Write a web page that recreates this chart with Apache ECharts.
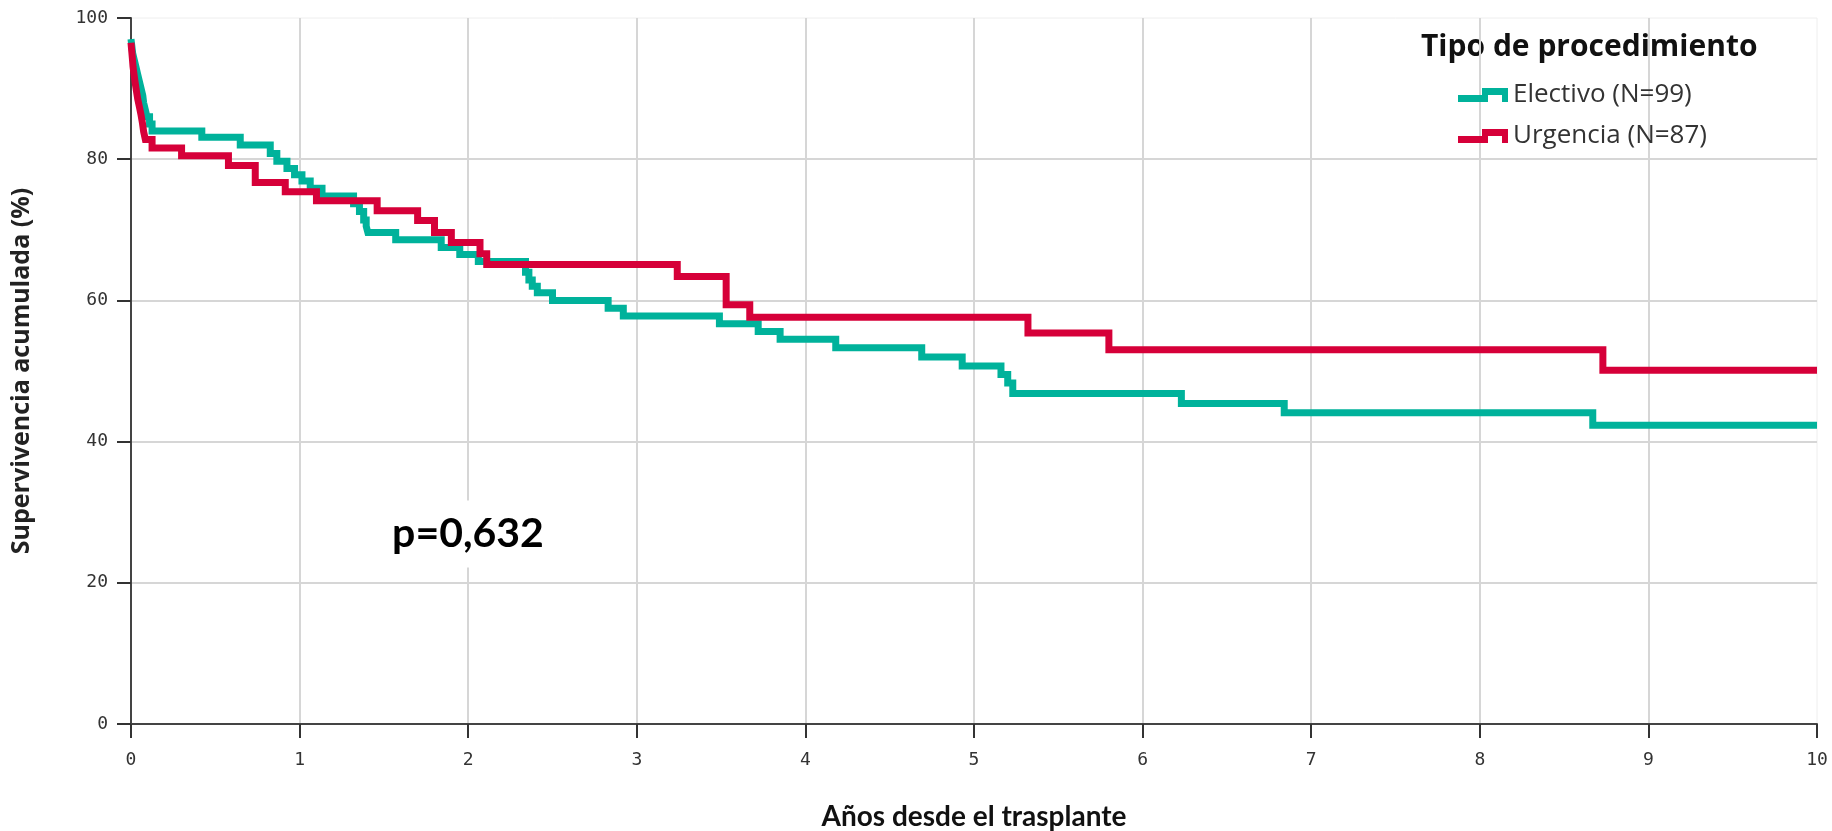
<!DOCTYPE html>
<html>
<head>
<meta charset="utf-8">
<title>Supervivencia por tipo de procedimiento</title>
<script src="https://cdn.jsdelivr.net/npm/echarts@6/dist/echarts.min.js"></script>
<style>
  html, body { margin: 0; padding: 0; background: #fff; }
  #chart { width: 1832px; height: 831px; }
</style>
</head>
<body>
<div id="chart"></div>
<script>
// Electivo (N=99): time in years, survival (%) from that time on
const electivoTime = [0, 0.005, 0.01, 0.02, 0.03, 0.04, 0.05, 0.06, 0.07, 0.075, 0.085, 0.095, 0.11, 0.125,
  0.42, 0.648, 0.826, 0.865, 0.925, 0.97, 1.014, 1.063, 1.133, 1.32, 1.355, 1.38, 1.395, 1.405, 1.57, 1.84,
  1.95, 2.06, 2.34, 2.36, 2.38, 2.41, 2.5, 2.83, 2.92, 3.49, 3.72, 3.85, 4.18, 4.69, 4.93, 5.16, 5.2, 5.23,
  6.23, 6.84, 8.67, 10]
const electivoSurv = [97.0, 96.0, 95.0, 94.0, 93.0, 92.0, 91.0, 90.0, 89.0, 88.0, 87.0, 86.0, 85.0, 84.0,
  83.1, 82.0, 80.8, 79.7, 78.7, 77.8, 76.9, 75.9, 74.8, 73.7, 72.6, 71.4, 70.5, 69.6, 68.6, 67.5,
  66.5, 65.5, 64.0, 62.9, 62.0, 61.1, 60.0, 58.9, 57.8, 56.7, 55.6, 54.5, 53.3, 52.0, 50.7, 49.5, 48.3, 46.8,
  45.4, 44.1, 42.3, 42.3]

// Urgencia (N=87)
const urgenciaTime = [0, 0.004, 0.008, 0.012, 0.018, 0.025, 0.032, 0.04, 0.05, 0.06, 0.068, 0.075, 0.085, 0.125,
  0.3, 0.578, 0.737, 0.915, 1.1, 1.46, 1.7, 1.8, 1.9, 2.07, 2.11, 3.24, 3.53, 3.67, 5.32, 5.8, 8.73, 10]
const urgenciaSurv = [96.5, 95.4, 94.3, 93.1, 92.0, 90.8, 89.7, 88.5, 87.4, 86.2, 85.1, 83.9, 82.8, 81.6,
  80.5, 79.1, 76.7, 75.4, 74.1, 72.7, 71.3, 69.6, 68.2, 66.6, 65.1, 63.4, 59.4, 57.6, 55.4, 53.0, 50.1, 50.1]

const seriesNames = ['Electivo (N=99)', 'Urgencia (N=87)']
const legendTitle = 'Tipo de procedimiento'
const pValueText = 'p=0,632'
const xName = 'Años desde el trasplante'
const yName = 'Supervivencia acumulada (%)'

const toPairs = (t, s) => t.map((v, i) => [v, s[i]])

const chart = echarts.init(document.getElementById('chart'))
const stepIcon = 'path://M0,7 L24,7 L24,0 L50,0 L50,14 L44,14 L44,7 L30,7 L30,14 L0,14 Z'

chart.setOption({
  animation: false,
  backgroundColor: '#fff',
  grid: {
    left: 131,
    right: 15,
    top: 18,
    bottom: 107,
    outerBoundsMode: 'none',
    show: true,
    borderColor: '#eeeeee',
    borderWidth: 1
  },
  legend: {
    orient: 'vertical',
    left: 1458,
    top: 80,
    padding: 0,
    itemGap: 11,
    itemWidth: 50,
    itemHeight: 14,
    icon: stepIcon,
    itemStyle: { borderWidth: 0 },
    textStyle: {
      fontFamily: 'Open Sans',
      fontSize: 26,
      lineHeight: 30,
      color: '#333'
    },
    data: seriesNames
  },
  xAxis: {
    type: 'value',
    min: 0,
    max: 10,
    interval: 1,
    name: xName,
    nameLocation: 'middle',
    nameGap: 79,
    nameTextStyle: {
      fontFamily: 'Lato',
      fontWeight: 'bold',
      fontSize: 28,
      color: '#111'
    },
    axisLine: { lineStyle: { color: '#444', width: 2 } },
    axisTick: { length: 14, lineStyle: { color: '#333', width: 2 } },
    axisLabel: {
      margin: 27,
      fontFamily: 'DejaVu Sans Mono',
      fontSize: 18,
      color: '#333'
    },
    splitLine: {
      show: true,
      showMaxLine: false,
      lineStyle: { color: '#d6d6d6', width: 2 }
    }
  },
  yAxis: {
    type: 'value',
    min: 0,
    max: 100,
    interval: 20,
    name: yName,
    nameLocation: 'middle',
    nameGap: 97,
    nameTextStyle: {
      fontFamily: 'Open Sans',
      fontWeight: 'bold',
      fontSize: 25,
      color: '#222'
    },
    axisLine: { show: true, lineStyle: { color: '#444', width: 2 } },
    axisTick: { show: true, length: 14, lineStyle: { color: '#333', width: 2 } },
    axisLabel: {
      margin: 23,
      fontFamily: 'DejaVu Sans Mono',
      fontSize: 18,
      color: '#333'
    },
    splitLine: {
      show: true,
      showMaxLine: false,
      lineStyle: { color: '#d6d6d6', width: 2 }
    }
  },
  graphic: [
    {
      type: 'text',
      left: 1421,
      top: 32,
      style: {
        text: legendTitle,
        fontFamily: 'Open Sans',
        fontWeight: 'bold',
        fontSize: 30,
        fill: '#111'
      }
    },
    {
      type: 'text',
      x: 468,
      y: 534,
      z: 100,
      style: {
        text: pValueText,
        align: 'center',
        verticalAlign: 'middle',
        fontFamily: 'Lato',
        fontWeight: 'bold',
        fontSize: 41,
        fill: '#000',
        backgroundColor: '#fff',
        padding: [13, 4]
      }
    }
  ],
  series: [
    {
      name: seriesNames[0],
      type: 'line',
      step: 'end',
      showSymbol: false,
      symbol: 'none',
      color: '#00B29B',
      lineStyle: { width: 7, color: '#00B29B', join: 'miter', cap: 'butt' },
      data: toPairs(electivoTime, electivoSurv)
    },
    {
      name: seriesNames[1],
      type: 'line',
      step: 'end',
      showSymbol: false,
      symbol: 'none',
      color: '#D60039',
      lineStyle: { width: 7, color: '#D60039', join: 'miter', cap: 'butt' },
      data: toPairs(urgenciaTime, urgenciaSurv)
    }
  ]
})
</script>
</body>
</html>
